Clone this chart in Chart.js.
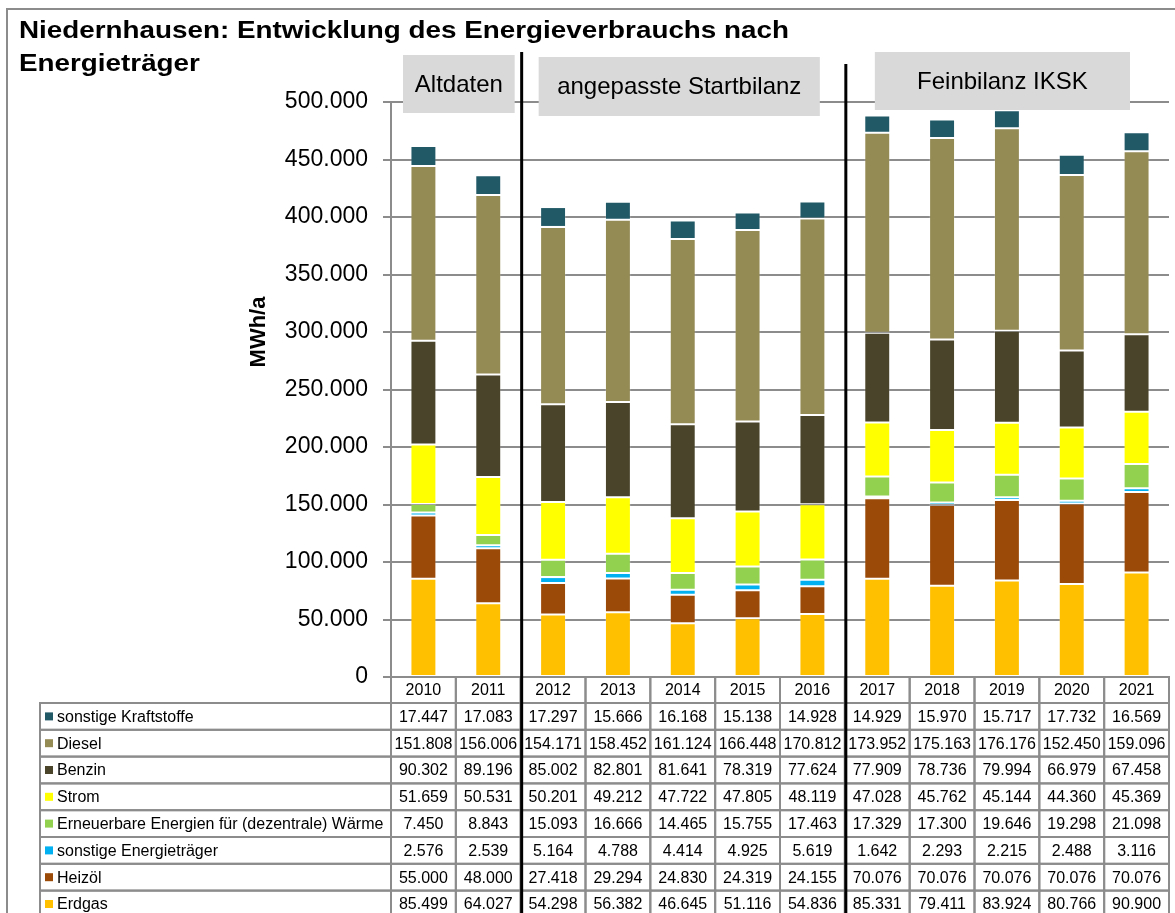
<!DOCTYPE html>
<html>
<head>
<meta charset="utf-8">
<script src="https://cdn.jsdelivr.net/npm/chart.js@4/dist/chart.umd.min.js"></script>
<style>
  html, body { margin: 0; padding: 0; background: #fff; }
</style>
</head>
<body>
<canvas id="chart" width="1175" height="913"></canvas>
<script>
// Werte in MWh/a
const years = ['2010','2011','2012','2013','2014','2015','2016','2017','2018','2019','2020','2021'];
const erdgas = [85499,64027,54298,56382,46645,51116,54836,85331,79411,83924,80766,90900];
const heizoel = [55000,48000,27418,29294,24830,24319,24155,70076,70076,70076,70076,70076];
const sonstigeEnergietraeger = [2576,2539,5164,4788,4414,4925,5619,1642,2293,2215,2488,3116];
const erneuerbare = [7450,8843,15093,16666,14465,15755,17463,17329,17300,19646,19298,21098];
const strom = [51659,50531,50201,49212,47722,47805,48119,47028,45762,45144,44360,45369];
const benzin = [90302,89196,85002,82801,81641,78319,77624,77909,78736,79994,66979,67458];
const diesel = [151808,156006,154171,158452,161124,166448,170812,173952,175163,176176,152450,159096];
const sonstigeKraftstoffe = [17447,17083,17297,15666,16168,15138,14928,14929,15970,15717,17732,16569];

const phaseLabels = ['Altdaten', 'angepasste Startbilanz', 'Feinbilanz IKSK'];
const phaseFirst = [0, 2, 7];
const phaseLast = [1, 6, 11];

const FONT = '"Liberation Sans", Arial, sans-serif';

function fmt(v) {
  return String(v).replace(/\B(?=(\d{3})+(?!\d))/g, '.');
}

// boxes: insets from the phase edges, top/bottom in px
const boxStyle = [
  { li: 12, ri: 6, t: 55, b: 113 },
  { li: 18, ri: 25, t: 57, b: 116 },
  { li: 30, ri: 39, t: 52, b: 110 }
];
const sepTop = [52, 64];

const datasets = [
  { label: 'Erdgas', data: erdgas, backgroundColor: '#FFC000' },
  { label: 'Heizöl', data: heizoel, backgroundColor: '#9C4A08' },
  { label: 'sonstige Energieträger', data: sonstigeEnergietraeger, backgroundColor: '#00B0F0' },
  { label: 'Erneuerbare Energien für (dezentrale) Wärme', data: erneuerbare, backgroundColor: '#92D050' },
  { label: 'Strom', data: strom, backgroundColor: '#FFFF00' },
  { label: 'Benzin', data: benzin, backgroundColor: '#4A452A' },
  { label: 'Diesel', data: diesel, backgroundColor: '#948A54' },
  { label: 'sonstige Kraftstoffe', data: sonstigeKraftstoffe, backgroundColor: '#215967' }
];
datasets.forEach(d => {
  d.borderWidth = 1;
  d.borderColor = 'rgba(255,255,255,0.18)';
  d.borderSkipped = false;
});

const extras = {
  id: 'extras',
  afterDraw(chart) {
    const { ctx, chartArea: ca, scales: { x } } = chart;
    const half = (x.getPixelForValue(1) - x.getPixelForValue(0)) / 2;
    const colL = i => x.getPixelForValue(i) - half;
    const colR = i => x.getPixelForValue(i) + half;
    ctx.save();

    // phase boxes
    phaseLabels.forEach((lab, p) => {
      const s = boxStyle[p];
      const l = colL(phaseFirst[p]) + s.li, r = colR(phaseLast[p]) - s.ri;
      ctx.fillStyle = '#D9D9D9';
      ctx.fillRect(l, s.t, r - l, s.b - s.t);
      ctx.fillStyle = '#000';
      ctx.font = '24px ' + FONT;
      ctx.textAlign = 'center';
      ctx.textBaseline = 'middle';
      ctx.fillText(lab, (l + r) / 2, (s.t + s.b) / 2 + 1);
    });

    // table
    const headH = 26, rowH = 26.8, tableLeft = 40;
    ctx.strokeStyle = '#8C8C8C';
    ctx.lineWidth = 2;
    ctx.font = '16px ' + FONT;
    ctx.textBaseline = 'middle';
    years.forEach((yr, i) => {
      ctx.strokeRect(colL(i), ca.bottom, colR(i) - colL(i), headH);
      ctx.fillStyle = '#000';
      ctx.textAlign = 'center';
      ctx.fillText(yr, x.getPixelForValue(i), ca.bottom + headH / 2 + 1);
    });
    const rows = datasets.slice().reverse();
    rows.forEach((ds, r) => {
      const ty = ca.bottom + headH + r * rowH;
      ctx.strokeRect(tableLeft, ty, ca.left - tableLeft, rowH);
      ctx.fillStyle = ds.backgroundColor;
      ctx.fillRect(tableLeft + 5, ty + rowH / 2 - 4, 8, 8);
      ctx.fillStyle = '#000';
      ctx.textAlign = 'left';
      ctx.fillText(ds.label, tableLeft + 17, ty + rowH / 2 + 1);
      ctx.textAlign = 'center';
      ds.data.forEach((v, i) => {
        ctx.strokeRect(colL(i), ty, colR(i) - colL(i), rowH);
        ctx.fillText(fmt(v), x.getPixelForValue(i), ty + rowH / 2 + 1);
      });
    });

    // separators between phases
    ctx.strokeStyle = '#000';
    ctx.lineWidth = 3;
    [1, 2].forEach((p, k) => {
      const sx = colL(phaseFirst[p]) + 1;
      ctx.beginPath();
      ctx.moveTo(sx, sepTop[k]);
      ctx.lineTo(sx, chart.height);
      ctx.stroke();
    });

    // title (stretched a bit wider, as in the original)
    ctx.fillStyle = '#000';
    ctx.textAlign = 'left';
    ctx.textBaseline = 'alphabetic';
    ctx.font = 'bold 24.5px ' + FONT;
    const line1 = 'Niedernhausen: Entwicklung des Energieverbrauchs nach';
    const sx = 770 / ctx.measureText(line1).width;
    ctx.save();
    ctx.translate(19, 0);
    ctx.scale(sx, 1);
    ctx.fillText(line1, 0, 38);
    ctx.fillText('Energieträger', 0, 71);
    ctx.restore();

    // axis title
    ctx.save();
    ctx.translate(259, 332);
    ctx.rotate(-Math.PI / 2);
    ctx.font = 'bold 22px ' + FONT;
    ctx.textAlign = 'center';
    ctx.textBaseline = 'middle';
    ctx.fillText('MWh/a', 0, 0);
    ctx.restore();

    // frame
    ctx.strokeStyle = '#8C8C8C';
    ctx.lineWidth = 2;
    ctx.strokeRect(7, 9, chart.width + 10, chart.height + 10);
    ctx.restore();
  }
};

new Chart(document.getElementById('chart'), {
  type: 'bar',
  data: { labels: years, datasets: datasets },
  options: {
    responsive: false,
    animation: false,
    layout: { padding: { left: 0, top: 102, right: 6, bottom: 236 } },
    plugins: { legend: { display: false }, tooltip: { enabled: false } },
    datasets: { bar: { barPercentage: 0.4, categoryPercentage: 1 } },
    scales: {
      x: { stacked: true, display: false },
      y: {
        stacked: true,
        min: 0,
        max: 500000,
        afterFit: s => { s.width = 391; },
        ticks: {
          stepSize: 50000,
          color: '#000',
          font: { family: FONT, size: 23 },
          padding: 15,
          callback: v => fmt(v)
        },
        grid: { color: '#8C8C8C', lineWidth: 2, tickLength: 8 },
        border: { color: '#8C8C8C', width: 2 }
      }
    }
  },
  plugins: [extras]
});
</script>
</body>
</html>
